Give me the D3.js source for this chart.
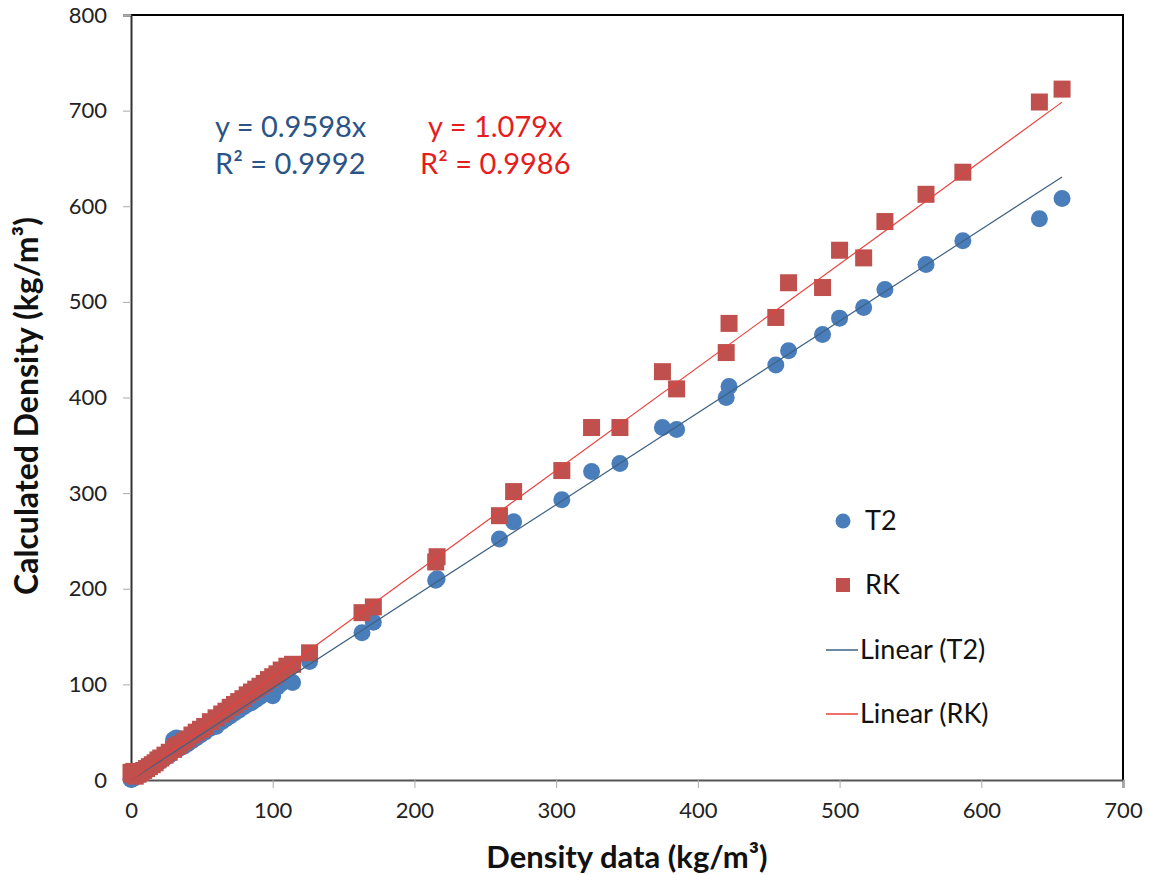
<!DOCTYPE html>
<html>
<head>
<meta charset="utf-8">
<script src="https://cdn.jsdelivr.net/npm/d3@7"></script>
<style>
  html, body { margin: 0; padding: 0; background: #fff; }
  svg { display: block; font-family: Lato, "Open Sans", sans-serif; }
</style>
</head>
<body>
<svg id="chart" width="1149" height="875"></svg>
<script>
// Measured density (kg/m³), shared by both models
const densityData = [0, 1, 2, 3, 5, 7, 9, 11, 13, 15, 17, 19, 21, 24, 27, 30, 32, 34, 37, 40,
  43, 46, 49, 52, 56, 60, 64, 67, 70, 73, 76, 79, 82, 85, 88, 91, 94, 97, 100, 103,
  106, 110, 114, 126, 163, 171, 215, 216, 260, 270, 304, 325, 345, 375, 385, 420, 422,
  455, 464, 488, 500, 517, 532, 561, 587, 641, 657];

// Calculated density, T2 model
const t2Values = [0.5, 1, 2, 3, 5, 7, 8.5, 10.5, 12.5, 14, 16, 18, 20, 23, 26, 42, 44, 33, 35, 38,
  41, 44, 47, 50, 54, 56, 61, 64, 67, 70, 73, 76, 79, 81, 84, 87, 90, 92, 88, 97,
  101, 104, 102, 124, 154, 165, 209, 210.5, 252, 270, 293, 322.5, 331, 368.6, 366.5, 400, 411.5,
  434, 449, 466, 483, 494, 513, 539, 564, 587, 608];

// Calculated density, RK model
const rkValues = [8, 6, 9, 4, 6, 8, 10, 12, 14, 16, 18, 21, 23, 26, 29, 32, 35, 37, 40, 43,
  47, 50, 53, 56, 61, 65, 69, 72, 76, 79, 82, 85, 89, 92, 95, 98, 101, 105, 108, 111,
  115, 119, 121, 133, 175, 181, 228, 233.5, 276.4, 301.6, 323.6, 368.6, 368.6, 427, 409, 447, 477.5,
  483.7, 520, 515, 554, 546, 584, 612.5, 635.6, 709, 722.5];

// Linear trendlines through the origin
const t2Slope = 0.9598, t2R2 = "0.9992";
const rkSlope = 1.079, rkR2 = "0.9986";

const xTicks = [0, 100, 200, 300, 400, 500, 600, 700];
const yTicks = [0, 100, 200, 300, 400, 500, 600, 700, 800];

const legendItems = ["T2", "RK", "Linear (T2)", "Linear (RK)"];

const BLUE = "#4a7ebb", RED = "#c0504d";
const BLUE_LINE = "#3f6283", RED_LINE = "#e8403c";
const BLUE_TEXT = "#2b5486", RED_TEXT = "#e41e1e";

const svg = d3.select("#chart");
const plot = { left: 131, top: 15, right: 1123, bottom: 780 };

const x = d3.scaleLinear().domain([0, 700]).range([plot.left, plot.right]);
const y = d3.scaleLinear().domain([0, 800]).range([plot.bottom, plot.top]);

// Plot-area frame (top and right edges)
svg.append("path")
  .attr("d", `M${plot.left},${plot.top}H${plot.right}V${plot.bottom}`)
  .attr("fill", "none").attr("stroke", "#000").attr("stroke-width", 2);

// Y axis
const yAxis = svg.append("g").attr("transform", `translate(${plot.left},0)`)
  .call(d3.axisLeft(y).tickValues(yTicks).tickSize(8).tickPadding(16));
yAxis.select(".domain").attr("stroke", "#333").attr("stroke-width", 2);
yAxis.selectAll(".tick line").attr("stroke", "#aaa");
yAxis.selectAll(".tick text").attr("font-family", "Lato, sans-serif")
  .attr("font-size", 22).attr("fill", "#222");

// X axis
const xAxis = svg.append("g").attr("transform", `translate(0,${plot.bottom})`)
  .call(d3.axisBottom(x).tickValues(xTicks).tickSize(8).tickPadding(14));
xAxis.select(".domain").attr("stroke", "#555").attr("stroke-width", 2);
xAxis.selectAll(".tick line").attr("stroke", "#aaa");
xAxis.selectAll(".tick text").attr("font-family", "Lato, sans-serif")
  .attr("font-size", 22).attr("fill", "#222");

// Axis titles
svg.append("text")
  .attr("x", 627).attr("y", 868)
  .attr("text-anchor", "middle")
  .attr("font-size", 31).attr("font-weight", "bold").attr("fill", "#111")
  .text("Density data (kg/m³)");

svg.append("text")
  .attr("transform", "translate(38,406) rotate(-90)")
  .attr("text-anchor", "middle")
  .attr("font-size", 32).attr("font-weight", "bold").attr("fill", "#111")
  .text("Calculated Density (kg/m³)");

const points = densityData.map((d, i) => ({ x: d, t2: t2Values[i], rk: rkValues[i] }));

// T2 markers (circles)
svg.append("g").selectAll("circle").data(points).join("circle")
  .attr("cx", d => x(d.x)).attr("cy", d => y(d.t2)).attr("r", 8.5)
  .attr("fill", BLUE);

// RK markers (squares)
const sq = 17;
svg.append("g").selectAll("rect").data(points).join("rect")
  .attr("x", d => x(d.x) - sq / 2).attr("y", d => y(d.rk) - sq / 2)
  .attr("width", sq).attr("height", sq)
  .attr("fill", RED);

// Trendlines
const xMax = d3.max(densityData);
const trend = [
  { slope: t2Slope, color: BLUE_LINE },
  { slope: rkSlope, color: RED_LINE }
];
svg.append("g").selectAll("line").data(trend).join("line")
  .attr("x1", x(0)).attr("y1", y(0))
  .attr("x2", x(xMax)).attr("y2", d => y(d.slope * xMax))
  .attr("stroke", d => d.color).attr("stroke-width", 1.2);

// Trendline equations
const eq = svg.append("g").attr("font-size", 29);
eq.append("text").attr("x", 215).attr("y", 137).attr("fill", BLUE_TEXT)
  .text(`y = ${t2Slope}x`);
eq.append("text").attr("x", 215).attr("y", 174).attr("fill", BLUE_TEXT)
  .text(`R² = ${t2R2}`);
eq.append("text").attr("x", 428).attr("y", 137).attr("fill", RED_TEXT)
  .text(`y = ${rkSlope}x`);
eq.append("text").attr("x", 420).attr("y", 174).attr("fill", RED_TEXT)
  .text(`R² = ${rkR2}`);

// Legend
const legend = svg.append("g").attr("font-size", 27).attr("fill", "#111");
const legY = [521, 585, 650, 714];
legend.append("circle").attr("cx", 843).attr("cy", legY[0]).attr("r", 7.5).attr("fill", BLUE);
legend.append("rect").attr("x", 836).attr("y", legY[1] - 7).attr("width", 14).attr("height", 14).attr("fill", RED);
legend.append("line").attr("x1", 826).attr("x2", 858).attr("y1", legY[2]).attr("y2", legY[2])
  .attr("stroke", BLUE_LINE).attr("stroke-width", 1.5);
legend.append("line").attr("x1", 826).attr("x2", 858).attr("y1", legY[3]).attr("y2", legY[3])
  .attr("stroke", RED_LINE).attr("stroke-width", 1.5);
legend.selectAll("text").data(legendItems).join("text")
  .attr("x", (d, i) => i < 2 ? 865 : 860)
  .attr("y", (d, i) => legY[i])
  .attr("dy", "0.35em")
  .text(d => d);
</script>
</body>
</html>
